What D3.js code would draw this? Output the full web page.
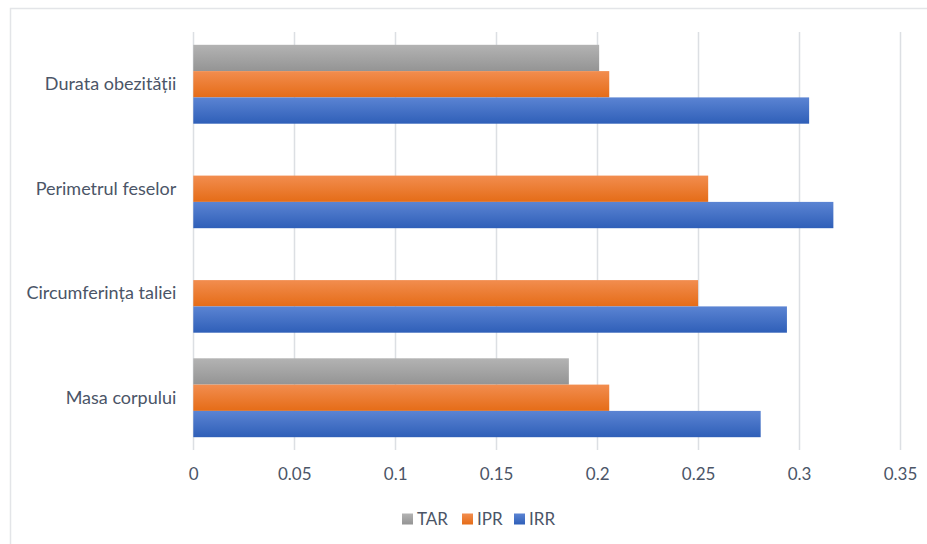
<!DOCTYPE html>
<html>
<head>
<meta charset="utf-8">
<script src="https://cdn.jsdelivr.net/npm/d3@7"></script>
<style>
  html, body { margin: 0; padding: 0; background: #fff; }
  svg text { font-family: Lato, "Open Sans", sans-serif; fill: #4b5567; }
</style>
</head>
<body>
<svg id="chart" width="927" height="544"></svg>
<script>
// Categories, listed top to bottom
const categories = ["Durata obezității", "Perimetrul feselor", "Circumferința taliei", "Masa corpului"];
const seriesNames = ["TAR", "IPR", "IRR"];
// Values per series, in category order (null = no bar)
const tarValues = [0.201, null, null, 0.186];
const iprValues = [0.206, 0.255, 0.250, 0.206];
const irrValues = [0.305, 0.317, 0.294, 0.281];
const tickValues = [0, 0.05, 0.1, 0.15, 0.2, 0.25, 0.3, 0.35];

const seriesValues = { TAR: tarValues, IPR: iprValues, IRR: irrValues };
const colors = {
  TAR: ["#b3b3b3", "#949494"],
  IPR: ["#f28d4f", "#e56c17"],
  IRR: ["#5b84d3", "#2f5fb8"]
};

const svg = d3.select("#chart");

// gradients: lighter at the top of each bar, darker at the bottom
const defs = svg.append("defs");
seriesNames.forEach(s => {
  const g = defs.append("linearGradient")
    .attr("id", "grad-" + s).attr("x1", 0).attr("y1", 0).attr("x2", 0).attr("y2", 1);
  g.append("stop").attr("offset", "0%").attr("stop-color", colors[s][0]);
  g.append("stop").attr("offset", "100%").attr("stop-color", colors[s][1]);
});

// chart area frame
svg.append("rect")
  .attr("x", 10.5).attr("y", 8.5).attr("width", 940).attr("height", 560)
  .attr("fill", "none").attr("stroke", "#e3e5e8").attr("stroke-width", 1.5);

const x = d3.scaleLinear().domain([0, 0.35]).range([193.3, 900]);
const y = d3.scaleBand().domain(categories).range([32, 450]).paddingInner(0).paddingOuter(0);
const ySub = d3.scaleBand().domain(seriesNames).range([0, y.bandwidth()]).paddingInner(0).paddingOuter(0.487);

// vertical gridlines
svg.append("g")
  .selectAll("line")
  .data(tickValues)
  .join("line")
  .attr("x1", d => Math.round(x(d)) + 0.5).attr("x2", d => Math.round(x(d)) + 0.5)
  .attr("y1", 32).attr("y2", 450)
  .attr("stroke", "#dcdfe3").attr("stroke-width", 1.5);

// x axis labels
const xAxis = d3.axisBottom(x).tickValues(tickValues)
  .tickFormat(d => String(+d.toFixed(2))).tickSize(0).tickPadding(0);
const gx = svg.append("g").attr("transform", "translate(0,468)").call(xAxis);
gx.select(".domain").remove();
gx.selectAll("text").attr("font-size", 17).attr("dy", "0.71em").attr("font-family", null);

// y axis labels
const yAxis = d3.axisLeft(y).tickSize(0).tickPadding(17);
const gy = svg.append("g").attr("transform", "translate(193.3,0)").call(yAxis);
gy.select(".domain").remove();
gy.selectAll("text").attr("font-size", 18).attr("font-family", null);

// bars
const rows = [];
categories.forEach((c, i) => {
  seriesNames.forEach(s => {
    const v = seriesValues[s][i];
    if (v != null) rows.push({ category: c, series: s, value: v });
  });
});
svg.append("g")
  .selectAll("rect")
  .data(rows)
  .join("rect")
  .attr("x", x(0))
  .attr("y", d => y(d.category) + ySub(d.series))
  .attr("width", d => x(d.value) - x(0))
  .attr("height", ySub.bandwidth())
  .attr("fill", d => `url(#grad-${d.series})`);

// legend
const legendX = [402, 462, 514];
const legend = svg.append("g").attr("transform", "translate(0,519)");
seriesNames.forEach((s, i) => {
  legend.append("rect")
    .attr("x", legendX[i]).attr("y", -5.5).attr("width", 11).attr("height", 11)
    .attr("fill", `url(#grad-${s})`);
  legend.append("text")
    .attr("x", legendX[i] + 15).attr("y", 0).attr("dy", "0.35em")
    .attr("font-size", 17).text(s);
});
</script>
</body>
</html>
